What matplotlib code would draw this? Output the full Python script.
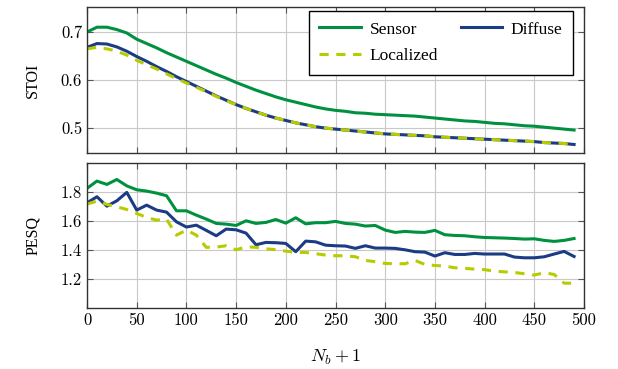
import matplotlib
matplotlib.use("Agg")
import matplotlib.pyplot as plt
import numpy as np

plt.rcParams.update({
    "font.family": "Liberation Serif",
    "mathtext.fontset": "cm",
    "font.size": 11,
})

GREEN = "#009140"
NAVY = "#1c3b85"
YELLOW = "#b7cc00"

nb = np.arange(0, 500, 10)

stoi_sensor = [0.700, 0.710, 0.710, 0.705, 0.698, 0.685, 0.676, 0.667, 0.657, 0.648,
               0.639, 0.630, 0.621, 0.612, 0.604, 0.595, 0.587, 0.579, 0.572, 0.565,
               0.559, 0.554, 0.549, 0.544, 0.540, 0.537, 0.535, 0.532, 0.531, 0.529,
               0.528, 0.527, 0.526, 0.525, 0.523, 0.521, 0.519, 0.517, 0.515, 0.514,
               0.512, 0.510, 0.509, 0.507, 0.505, 0.504, 0.502, 0.500, 0.498, 0.496]
stoi_diffuse = [0.668, 0.676, 0.675, 0.669, 0.660, 0.649, 0.639, 0.628, 0.618, 0.607,
                0.597, 0.587, 0.577, 0.567, 0.558, 0.549, 0.541, 0.534, 0.527, 0.521,
                0.516, 0.511, 0.507, 0.503, 0.500, 0.498, 0.496, 0.494, 0.492, 0.490,
                0.488, 0.487, 0.486, 0.485, 0.484, 0.482, 0.481, 0.480, 0.479, 0.478,
                0.477, 0.476, 0.475, 0.474, 0.473, 0.472, 0.470, 0.469, 0.468, 0.466]
stoi_localized = [0.665, 0.668, 0.665, 0.660, 0.652, 0.641, 0.632, 0.623, 0.613, 0.603,
                  0.594, 0.585, 0.576, 0.566, 0.557, 0.549, 0.541, 0.534, 0.527, 0.521,
                  0.516, 0.511, 0.507, 0.503, 0.500, 0.498, 0.496, 0.494, 0.492, 0.490,
                  0.488, 0.487, 0.486, 0.485, 0.484, 0.482, 0.481, 0.480, 0.479, 0.478,
                  0.477, 0.476, 0.475, 0.474, 0.473, 0.472, 0.470, 0.469, 0.468, 0.466]

pesq_sensor = [1.826, 1.876, 1.853, 1.887, 1.843, 1.816, 1.807, 1.793, 1.775, 1.671,
               1.671, 1.641, 1.614, 1.584, 1.579, 1.570, 1.602, 1.584, 1.591, 1.611,
               1.586, 1.623, 1.581, 1.589, 1.589, 1.598, 1.584, 1.579, 1.566, 1.570,
               1.538, 1.522, 1.529, 1.524, 1.522, 1.536, 1.506, 1.501, 1.499, 1.492,
               1.487, 1.485, 1.483, 1.480, 1.476, 1.478, 1.467, 1.460, 1.467, 1.480]
pesq_diffuse = [1.726, 1.768, 1.703, 1.740, 1.798, 1.676, 1.710, 1.676, 1.662, 1.595,
                1.559, 1.572, 1.536, 1.499, 1.545, 1.540, 1.517, 1.437, 1.453, 1.451,
                1.446, 1.389, 1.462, 1.457, 1.434, 1.430, 1.428, 1.412, 1.430, 1.414,
                1.414, 1.412, 1.402, 1.389, 1.386, 1.359, 1.382, 1.370, 1.370, 1.377,
                1.373, 1.373, 1.373, 1.352, 1.347, 1.347, 1.354, 1.373, 1.391, 1.356]
pesq_localized = [1.717, 1.738, 1.715, 1.699, 1.680, 1.653, 1.625, 1.607, 1.614, 1.503,
                  1.538, 1.503, 1.419, 1.421, 1.430, 1.402, 1.423, 1.419, 1.409, 1.403,
                  1.393, 1.384, 1.384, 1.375, 1.366, 1.361, 1.361, 1.354, 1.329, 1.320,
                  1.308, 1.306, 1.306, 1.329, 1.301, 1.294, 1.290, 1.278, 1.274, 1.269,
                  1.265, 1.255, 1.250, 1.246, 1.237, 1.228, 1.244, 1.232, 1.172, 1.172]

fig = plt.figure(figsize=(6.18, 3.69), dpi=100)
ax1 = fig.add_axes([0.1408, 0.585, 0.8042, 0.396])
ax2 = fig.add_axes([0.1408, 0.165, 0.8042, 0.393])

lw = 2.2
handles = {}
for ax, s, d, l in [(ax1, stoi_sensor, stoi_diffuse, stoi_localized),
                    (ax2, pesq_sensor, pesq_diffuse, pesq_localized)]:
    handles["Sensor"], = ax.plot(nb, s, color=GREEN, lw=lw, label="Sensor")
    handles["Diffuse"], = ax.plot(nb, d, color=NAVY, lw=lw, label="Diffuse")
    handles["Localized"], = ax.plot(nb, l, color=YELLOW, lw=lw, ls=(0, (3, 2.5)),
                                    label="Localized")
    ax.set_xlim(0, 500)
    ax.set_xticks(np.arange(0, 501, 50))
    ax.grid(True, color="#c8c8c8", lw=0.8)
    ax.tick_params(direction="in", top=True, right=True, length=4,
                   color="#555555")
    for sp in ax.spines.values():
        sp.set_color("#333333")
        sp.set_linewidth(1.0)

ax1.set_ylim(0.448, 0.752)
ax1.set_yticks([0.5, 0.6, 0.7])
ax1.set_yticklabels(["0.5", "0.6", "0.7"], fontfamily="cmr10", fontsize=12)
ax1.tick_params(labelbottom=False)
ax1.set_ylabel("STOI", labelpad=14, fontsize=11.5)

ax2.set_ylim(1.0, 2.0)
ax2.set_yticks([1.2, 1.4, 1.6, 1.8])
ax2.set_yticklabels(["1.2", "1.4", "1.6", "1.8"], fontfamily="cmr10", fontsize=12)
ax2.set_xticklabels([str(v) for v in range(0, 501, 50)], fontfamily="cmr10",
                    fontsize=12)
ax2.set_ylabel("PESQ", labelpad=14, fontsize=11.5)
ax2.set_xlabel("$N_b + 1$", fontsize=13, labelpad=14)

# row-major order: Sensor, Diffuse / Localized
order = ["Sensor", "Localized", "Diffuse"]
leg = ax1.legend([handles[k] for k in order], order, ncol=2, loc="upper right",
                 bbox_to_anchor=(0.978, 0.973), borderaxespad=0,
                 fancybox=False, framealpha=1, edgecolor="black",
                 handlelength=2.4, columnspacing=1.3, borderpad=0.6,
                 labelspacing=0.6, handletextpad=0.5, fontsize=12.5)
leg.get_frame().set_linewidth(1.0)

fig.savefig("out.png", dpi=100)
